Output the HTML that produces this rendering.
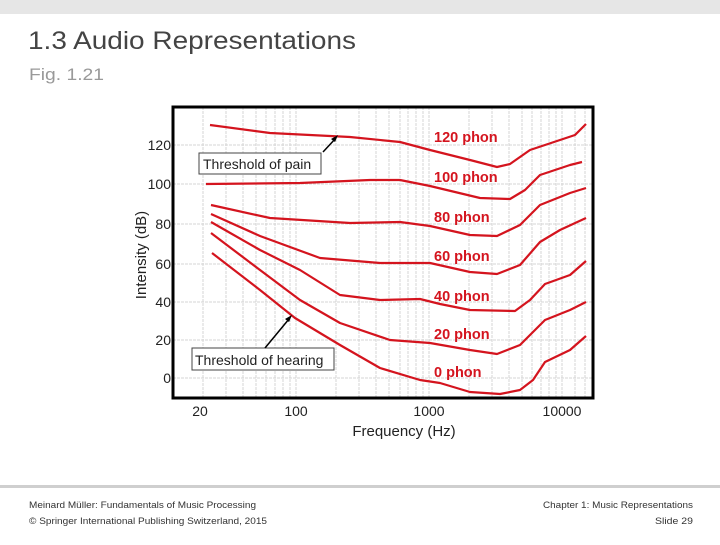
<!DOCTYPE html>
<html><head><meta charset="utf-8"><style>
body{margin:0;width:720px;height:540px;background:#fff;overflow:hidden;font-family:"Liberation Sans",sans-serif}
</style></head><body>
<svg width="720" height="540" xmlns="http://www.w3.org/2000/svg" font-family="Liberation Sans, sans-serif">
<rect x="0" y="0" width="720" height="14" fill="#e6e6e6"/>
<text x="28" y="49" font-size="25" fill="#444" textLength="328" lengthAdjust="spacingAndGlyphs">1.3 Audio Representations</text>
<text x="29" y="80" font-size="17" fill="#999" textLength="75" lengthAdjust="spacingAndGlyphs">Fig. 1.21</text>
<g stroke="#d4d4d4" stroke-width="1" stroke-dasharray="3,1">
<path d="M203 107V397M226 107V397M243 107V397M256 107V397M266 107V397M275 107V397M283 107V397M290 107V397M296 107V397M336 107V397M359 107V397M376 107V397M389 107V397M400 107V397M408 107V397M416 107V397M423 107V397M429 107V397M469 107V397M492 107V397M509 107V397M522 107V397M532 107V397M541 107V397M549 107V397M556 107V397M562 107V397M575 107V397M585 107V397"/>
<path d="M173 145H593M173 184H593M173 224H593M173 264H593M173 302H593M173 340H593M173 378H593"/>
</g>
<rect x="173" y="107" width="420" height="291" fill="none" stroke="#000" stroke-width="3"/>
<g fill="none" stroke="#d4141e" stroke-width="2.2" stroke-linejoin="round">
<path d="M210 125 L270 133 L350 137 L400 142 L430 150 L470 160 L497 167 L510 164 L530 150 L560 140 L575 135 L586 124"/>
<path d="M206 184 L300 183 L370 180 L400 180 L430 186 L480 198 L510 199 L525 190 L540 175 L570 165 L582 162"/>
<path d="M211 205 L270 218 L350 223 L400 222 L430 226 L470 235 L497 236 L520 225 L540 205 L570 193 L586 188"/>
<path d="M211 214 L260 236 L320 258 L380 263 L430 263 L470 272 L497 274 L520 265 L540 242 L560 230 L586 218"/>
<path d="M211 222 L260 250 L300 270 L340 295 L380 300 L420 299 L440 304 L470 310 L515 311 L530 300 L545 284 L570 275 L586 261"/>
<path d="M211 233 L260 270 L300 300 L340 323 L390 340 L430 343 L470 350 L497 354 L520 345 L545 320 L570 310 L586 302"/>
<path d="M212 253 L260 290 L295 318 L340 345 L380 368 L420 380 L440 383 L470 392 L500 394 L520 390 L533 380 L545 362 L570 350 L586 336"/>
</g>
<g font-size="14.5" font-weight="bold" fill="#d4141e">
<text x="434" y="142">120 phon</text><text x="434" y="182">100 phon</text><text x="434" y="222">80 phon</text>
<text x="434" y="261">60 phon</text><text x="434" y="301">40 phon</text><text x="434" y="339">20 phon</text><text x="434" y="377">0 phon</text>
</g>
<rect x="199" y="153" width="122" height="21" fill="#fff" stroke="#444"/>
<text x="203" y="169" font-size="14" fill="#222">Threshold of pain</text>
<path d="M323 152 L336 138" stroke="#000" stroke-width="1.5"/><path d="M338 135 L331 139 L335 142Z" fill="#000"/>
<rect x="192" y="348" width="142" height="22" fill="#fff" stroke="#444"/>
<text x="195" y="365" font-size="14" fill="#222">Threshold of hearing</text>
<path d="M265 348 L289 319" stroke="#000" stroke-width="1.5"/><path d="M292 315 L285 319 L289 322Z" fill="#000"/>
<g font-size="14" fill="#222" text-anchor="end">
<text x="171" y="150">120</text><text x="171" y="189">100</text><text x="171" y="229">80</text><text x="171" y="269">60</text>
<text x="171" y="307">40</text><text x="171" y="345">20</text><text x="171" y="383">0</text>
</g>
<g font-size="14" fill="#222" text-anchor="middle">
<text x="200" y="416">20</text><text x="296" y="416">100</text><text x="429" y="416">1000</text><text x="562" y="416">10000</text>
<text x="404" y="436" font-size="15">Frequency (Hz)</text>
</g>
<text transform="translate(146,255) rotate(-90)" font-size="15" fill="#222" text-anchor="middle">Intensity (dB)</text>
<rect x="0" y="485" width="720" height="3" fill="#cfcfcf"/>
<g font-size="9.5" fill="#333">
<text x="29" y="508" textLength="227" lengthAdjust="spacingAndGlyphs">Meinard Müller: Fundamentals of Music Processing</text>
<text x="29" y="524" textLength="238" lengthAdjust="spacingAndGlyphs">© Springer International  Publishing Switzerland, 2015</text>
<text x="543" y="508" textLength="150" lengthAdjust="spacingAndGlyphs">Chapter 1: Music Representations</text>
<text x="655" y="524" textLength="38" lengthAdjust="spacingAndGlyphs">Slide  29</text>
</g>
</svg>
</body></html>
